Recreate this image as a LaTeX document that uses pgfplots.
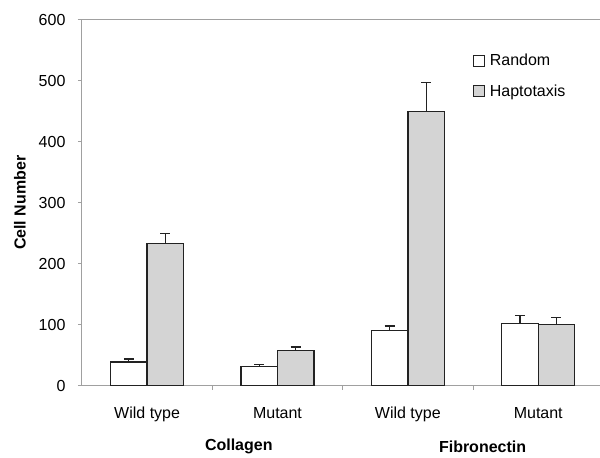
\documentclass[border=0pt]{standalone}
\usepackage{fontspec}
\setmainfont{Liberation Sans}
\usepackage{pgfplots}
\pgfplotsset{compat=1.18}
\definecolor{axgray}{HTML}{A0A0A0}
\definecolor{barg}{HTML}{D4D4D4}
\definecolor{edge}{HTML}{222222}
\pgfplotstableread{
x y e
-0.14 38.9 4.8
0.86 31.5 2.8
1.86 91.0 7.0
2.86 102.5 12.0
}\random
\pgfplotstableread{
x y e
0.14 233.5 16.5
1.14 57.8 5.5
2.14 449.5 48.0
3.14 100.0 12.5
}\hapto
\begin{document}
\begin{tikzpicture}
\begin{axis}[
  scale only axis, width=518pt, height=366pt,
  xmin=-0.5, xmax=3.47, ymin=0, ymax=600,
  clip=false,
  axis x line*=bottom, axis y line*=left,
  axis line style={axgray, line width=1pt},
  font=\fontsize{16}{19}\selectfont,
  tick label style={font=\fontsize{16}{19}\selectfont, black},
  /pgf/number format/assume math mode=true,
  ytick={0,100,...,600},
  tick align=outside,
  major tick length=4pt,
  tick style={axgray, line width=1pt},
  extra y ticks={600}, extra y tick labels={},
  extra y tick style={grid=major, major grid style={axgray, line width=1pt}},
  xtick={0.5,1.5,2.5}, xticklabels={},
  extra x ticks={0,1,2,3},
  extra x tick labels={Wild type, Mutant, Wild type, Mutant},
  extra x tick style={major tick length=0pt, xticklabel style={yshift=-18pt}},
  yticklabel style={xshift=-9pt},
  ylabel={\bfseries Cell Number},
  ylabel style={at={(axis description cs:-0.1197,0.5)}, anchor=center, font=\fontsize{16}{19}\selectfont},
  legend style={draw=none, fill=none, at={(rel axis cs:0.755,0.912)}, anchor=north west,
    inner sep=0pt, row sep=13.5pt, font=\fontsize{16}{19}\selectfont,
    /tikz/every odd column/.append style={column sep=3pt}},
  legend cell align=left,
]
\addplot[ybar, bar width=0.28, bar shift=0, fill=white, draw=edge, line width=1.3pt,
  legend image code/.code={\draw[fill=white, draw=edge, line width=1pt] (0pt,-5.5pt) rectangle (11pt,5.5pt);},
  error bars/.cd, y dir=plus, y explicit,
  error bar style={edge, line width=1.2pt},
  error mark options={rotate=90, mark size=5pt, edge, line width=1.2pt}]
  table[x=x, y=y, y error=e]{\random};
\addlegendentry{Random}
\addplot[ybar, bar width=0.28, bar shift=0, fill=barg, draw=edge, line width=1.3pt,
  legend image code/.code={\draw[fill=barg, draw=edge, line width=1pt] (0pt,-5.5pt) rectangle (11pt,5.5pt);},
  error bars/.cd, y dir=plus, y explicit,
  error bar style={edge, line width=1.2pt},
  error mark options={rotate=90, mark size=5pt, edge, line width=1.2pt}]
  table[x=x, y=y, y error=e]{\hapto};
\addlegendentry{Haptotaxis}
\node[font=\fontsize{16}{19}\selectfont\bfseries, yshift=-61pt] at (axis cs:0.703,0) {Collagen};
\node[font=\fontsize{16}{19}\selectfont\bfseries, yshift=-61pt] at (axis cs:2.573,0) {Fibronectin};
\end{axis}
\path ([shift={(-82pt,-70pt)}]current axis.south west) rectangle ([shift={(0pt,20pt)}]current axis.north east);
\end{tikzpicture}
\end{document}
